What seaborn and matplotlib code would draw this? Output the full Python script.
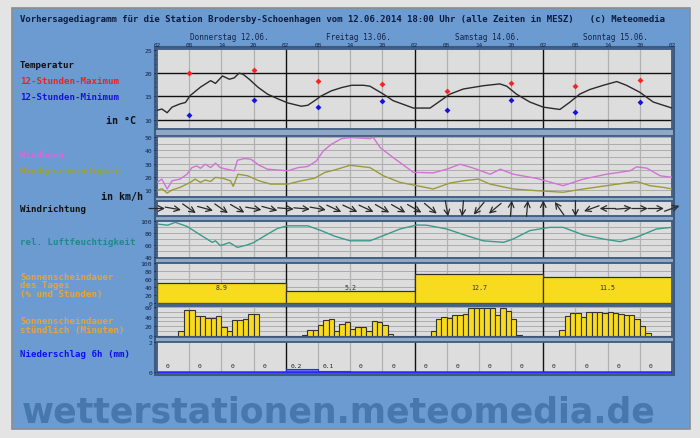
import matplotlib
matplotlib.use("Agg")
import matplotlib.pyplot as plt
import seaborn as sns
import numpy as np
from matplotlib.patches import Rectangle

# ---- data (hours after Thursday 02:00) ----
temp_hours = [0, 0.9, 1.9, 2.8, 4.3, 5.3, 6.2, 8.1, 10.0, 10.9, 12.2, 13.5, 14.4, 15.3, 16.0,
              17.2, 18.8, 20.6, 22.5, 24.4, 26.9, 28.1, 29.4, 30.6, 32.5, 34.4, 36.3, 38.5,
              39.7, 42.2, 44.0, 47.8, 50.9, 54.6, 57.1, 60.8, 63.9, 65.2, 67.0, 69.5, 72.0,
              75.1, 77.0, 78.8, 80.7, 83.2, 85.7, 87.5, 90.0, 92.5, 96.0]
temp_vals = [12.0, 12.3, 11.5, 12.7, 13.4, 13.7, 15.2, 17.0, 18.4, 17.8, 19.4, 18.7, 19.0, 20.0,
             19.8, 18.7, 17.0, 15.5, 14.5, 13.6, 12.9, 13.1, 14.1, 15.1, 16.2, 16.9, 17.4, 17.4,
             17.2, 15.5, 14.1, 12.5, 12.5, 15.5, 16.6, 17.3, 17.7, 17.2, 15.5, 13.8, 12.7,
             12.2, 13.8, 15.5, 16.5, 17.4, 18.2, 17.4, 15.9, 13.8, 12.5]
ext_hours = [6, 18, 30, 42, 54, 66, 78, 90]
tmax = [20.0, 20.6, 18.4, 17.7, 16.2, 17.9, 17.2, 18.5]
tmin = [11.1, 14.3, 12.7, 14.0, 12.0, 14.3, 11.6, 13.8]

gust_hours = [0, 0.9, 1.9, 2.8, 4.3, 5.6, 6.5, 7.4, 8.1, 9.0, 10.0, 10.9, 11.8, 13.0, 14.4, 15.0,
              16.3, 17.5, 19.0, 20.6, 24.4, 26.3, 28.1, 29.7, 31.0, 32.5, 34.4, 36.3, 39.7,
              40.3, 41.6, 44.0, 47.8, 51.5, 54.0, 56.5, 59.0, 62.1, 64.0, 66.4, 70.8, 75.7,
              79.5, 83.8, 88.2, 89.4, 91.3, 93.8, 96.0]
gust_vals = [15.8, 18.3, 10.8, 17.0, 18.3, 22.0, 27.0, 28.3, 26.5, 29.6, 27.0, 30.4, 27.0, 25.8,
             24.6, 32.6, 33.9, 33.4, 28.9, 25.8, 24.6, 27.0, 27.9, 32.0, 39.7, 44.7, 49.0, 49.8,
             49.0, 50.0, 42.2, 34.7, 23.4, 23.0, 25.8, 29.6, 26.6, 22.0, 25.8, 22.0, 18.8, 13.3,
             18.3, 22.0, 24.6, 27.6, 26.6, 20.8, 19.6]
wind_hours = [0, 0.9, 1.9, 2.8, 4.3, 6.2, 7.1, 8.1, 9.0, 10.0, 10.9, 12.2, 13.7, 14.2, 15.1, 16.9,
              19.0, 21.2, 24.4, 26.9, 29.4, 31.3, 33.2, 36.0, 39.7, 42.2, 45.3, 47.8, 51.5,
              54.6, 57.1, 59.9, 62.1, 66.4, 70.8, 75.7, 79.5, 83.8, 89.4, 91.9, 94.4, 96.0]
wind_vals = [9.5, 11.0, 7.7, 10.0, 12.0, 15.8, 18.3, 15.8, 17.6, 16.5, 19.6, 19.0, 17.0, 12.8,
             22.0, 20.8, 17.0, 14.5, 14.5, 17.0, 19.0, 23.4, 25.3, 28.8, 27.0, 20.8, 15.8, 13.8,
             10.8, 15.3, 17.0, 18.3, 14.5, 10.8, 9.5, 8.3, 10.8, 13.3, 16.5, 13.3, 12.0, 10.8]

hum_hours = [0, 2.0, 3.4, 5.6, 8.1, 10.3, 10.9, 11.8, 13.5, 15.0, 16.8, 18.0, 20.6, 22.5, 24.4,
             28.1, 30.6, 33.2, 36.0, 39.7, 42.2, 45.3, 48.4, 50.3, 54.0, 57.7, 60.8, 64.6,
             66.4, 69.5, 73.2, 75.7, 79.5, 83.2, 86.3, 89.4, 93.1, 96.0]
hum_vals = [95, 93, 97.8, 91, 76.7, 64.4, 67, 58.9, 64, 56, 60, 64, 78, 87.8, 92, 92, 84, 74.4,
            67, 67, 75.6, 86.7, 93.3, 93, 86.7, 75.6, 67, 64.4, 70, 84, 89.4, 89.4, 76.7,
            70, 65.6, 73, 86.7, 89.4]

dir_hours = list(range(0, 97, 3))
dir_angle = [0, -10, -35, -15, -35, -30, -10, -15, -5, -5, -10,
             -25, -25, -25, -30, -30, -30, -40, -80, -95, -130, -140,
             85, 85, 90, 125, -90, -160, 180, 5, 0, 0, 20]

day_names = ["Donnerstag 12.06.", "Freitag 13.06.", "Samstag 14.06.", "Sonntag 15.06."]
day_sun_pct = [51, 30, 72, 66]
day_sun_text = ["8.9", "5.2", "12.7", "11.5"]

sun_thu = [0, 0, 0, 0, 9, 53, 53, 42, 42, 37, 37, 41, 19, 9, 32, 32, 35, 45, 45, 0, 0, 0, 0, 0]
sun_fri = [0, 0, 0, 2, 12, 12, 23, 33, 35, 10, 25, 28, 14, 18, 18, 10, 30, 28, 23, 3, 0, 0, 0, 0]
sun_sat = [0, 0, 0, 10, 35, 40, 37, 43, 43, 45, 57, 57, 57, 57, 57, 43, 57, 52, 35, 1, 0, 0, 0, 0]
sun_sun = [0, 0, 0, 12, 41, 48, 48, 38, 49, 49, 49, 48, 50, 47, 45, 43, 43, 35, 21, 5, 0, 0, 0, 0]

precip_mm = [0, 0, 0, 0, 0.2, 0.1, 0, 0, 0, 0, 0, 0, 0, 0, 0, 0]
hour_labels = ["02", "08", "14", "20"]

# ---- layout ----
W, H = 700, 439
sns.set_style("white")
plt.rcParams["font.family"] = ["DejaVu Sans Mono", "DejaVu Sans"]
fig = plt.figure(figsize=(W / 100, H / 100), dpi=100, facecolor="#e4e4e4")

fig.add_artist(Rectangle((12 / W, 1 - 430 / H), 678 / W, 421 / H, transform=fig.transFigure,
                         facecolor="#6b9bd0", edgecolor="#8c8c8c", lw=1.2, zorder=-3))
fig.add_artist(Rectangle((155 / W, 1 - 376 / H), 519 / W, 328 / H, transform=fig.transFigure,
                         facecolor="#8fa8c6", edgecolor="#3d5a80", lw=1.5, zorder=-2))

BG = "#dddddd"
NAVY = "#14244a"


def panel(top, bottom, ylim, grid_step=None, ticks=None, minor=None):
    ax = fig.add_axes([157 / W, 1 - bottom / H, 515 / W, (bottom - top) / H])
    ax.set_facecolor(BG)
    ax.set_xlim(0, 96)
    ax.set_ylim(*ylim)
    for s in ax.spines.values():
        s.set_color("#3d5a80")
        s.set_linewidth(1.3)
    ax.set_xticks([])
    if ticks is not None:
        ax.set_yticks(ticks)
        ax.tick_params(axis="y", labelsize=4.6, length=2.5, width=0.6, pad=1,
                       colors=NAVY, left=True)
        if minor is not None:
            ax.set_yticks(minor, minor=True)
            ax.tick_params(axis="y", which="minor", length=1.5, width=0.5, color=NAVY, left=True)
    else:
        ax.set_yticks([])
    if grid_step:
        for yv in np.arange(ylim[0] - ylim[0] % grid_step + grid_step, ylim[1], grid_step):
            ax.axhline(yv, color="#a4a4a4", lw=0.6, zorder=0.5)
    for h in range(6, 96, 6):
        ax.axvline(h, color="#111111" if h % 24 == 0 else "#b2b2b2",
                   lw=1.0 if h % 24 == 0 else 0.9, zorder=0.6)
    return ax


# temperature
ax_t = panel(50, 130, (8.0, 25.2), ticks=[10, 15, 20, 25], minor=list(range(9, 26)))
for yv in [10, 15, 20]:
    ax_t.axhline(yv, color="#111111", lw=1.0, zorder=0.7)
sns.lineplot(x=temp_hours, y=temp_vals, ax=ax_t, color="#2a2a2a", lw=1.0, zorder=3)
sns.scatterplot(x=ext_hours, y=tmax, ax=ax_t, color="#ff2020", s=9, marker="D", linewidth=0, zorder=4)
sns.scatterplot(x=ext_hours, y=tmin, ax=ax_t, color="#1414e0", s=9, marker="D", linewidth=0, zorder=4)
ax_t.set_xticks(range(0, 97, 6))
ax_t.set_xticklabels([hour_labels[i % 4] for i in range(17)])
ax_t.xaxis.tick_top()
ax_t.tick_params(axis="x", labelsize=4.3, length=0, pad=1.5, colors=NAVY)
for i, name in enumerate(day_names):
    ax_t.text(i * 24 + 13.5, 1.16, name, transform=ax_t.get_xaxis_transform(),
              ha="center", va="center", fontsize=5.6, color=NAVY)

# wind
ax_w = panel(137, 198, (4.7, 51), grid_step=5, ticks=[10, 20, 30, 40, 50],
             minor=list(range(6, 51, 2)))
sns.lineplot(x=gust_hours, y=gust_vals, ax=ax_w, color="#d272d6", lw=1.0, zorder=3)
sns.lineplot(x=wind_hours, y=wind_vals, ax=ax_w, color="#9a9a3a", lw=1.0, zorder=3)

# wind direction
ax_d = panel(202, 217, (-1, 1))
L = 8.0
for h, a in zip(dir_hours, dir_angle):
    dx = L * np.cos(np.radians(a)) / (515 / 96)
    dy = L * np.sin(np.radians(a)) / 7.5
    ax_d.annotate("", xy=(h + dx, dy), xytext=(h - dx, -dy), annotation_clip=False,
                  arrowprops=dict(arrowstyle="->", color="#2a2a2a", lw=0.9,
                                  shrinkA=0, shrinkB=0, mutation_scale=10))

# humidity
ax_h = panel(222, 259, (38.3, 100), grid_step=10, ticks=[40, 60, 80, 100],
             minor=list(range(40, 101, 5)))
sns.lineplot(x=hum_hours, y=hum_vals, ax=ax_h, color="#3a9a8c", lw=1.0, zorder=3)

# daily sunshine
ax_s = panel(264, 305, (-1.5, 100), grid_step=20, ticks=[0, 20, 40, 60, 80, 100])
day_centers = [i * 24 + 12 for i in range(4)]
ax_s.bar(day_centers, day_sun_pct, width=24, color="#f8da1e", edgecolor="#333333", lw=0.9, zorder=2)
for c, t in zip(day_centers, day_sun_text):
    ax_s.text(c, 40, t, ha="center", va="center", fontsize=4.8, color="#333333", zorder=3)

# hourly sunshine
ax_m = panel(307, 338, (-2.7, 62), grid_step=10, ticks=[0, 20, 40, 60])
sun_hourly = sun_thu + sun_fri + sun_sat + sun_sun
ax_m.bar(np.arange(96) + 0.5, sun_hourly, width=1.0, color="#f8da1e",
         edgecolor="#333333", lw=0.8, zorder=2)

# precipitation
ax_p = panel(343, 374, (-0.05, 2), ticks=[0, 2])
precip_centers = np.arange(16) * 6 + 3
ax_p.bar(precip_centers, precip_mm, width=6, color="#6a6aff", edgecolor="#2a2aff", lw=0.8, zorder=2)
ax_p.axhline(0, color="#2a2aff", lw=1.8, zorder=3)
for c, v in zip(precip_centers, precip_mm):
    ax_p.text(c - 1, 0.42, "0" if v == 0 else f"{v:.1f}", ha="center", va="center",
              fontsize=4.5, color="#222222", zorder=4)

# ---- texts ----
def ftext(x, y, s, color, **kw):
    fig.text(x / W, 1 - y / H, s, color=color, fontsize=kw.pop("size", 6.6),
             fontweight=kw.pop("weight", "bold"), va="center", **kw)


ftext(20, 20, "Vorhersagediagramm für die Station Brodersby-Schoenhagen vom 12.06.2014 18:00 Uhr "
      "(alle Zeiten in MESZ)   (c) Meteomedia", "#0c1c40", size=6.5)
ftext(20, 65, "Temperatur", "#101010")
ftext(20, 81, "12-Stunden-Maximum", "#ee2222")
ftext(20, 97, "12-Stunden-Minimum", "#1414dd")
ftext(136, 121, "in °C", "#101010", ha="right", size=7.2)
ftext(20, 156, "Windböen", "#dd66dd")
ftext(20, 172, "Windgeschwindigkeit", "#a0a032")
ftext(143, 197, "in km/h", "#101010", ha="right", size=7.2)
ftext(20, 210, "Windrichtung", "#101010")
ftext(20, 243, "rel. Luftfeuchtigkeit", "#1f8a88")
ftext(20, 278, "Sonnenscheindauer", "#e8a43a")
ftext(20, 286, "des Tages", "#e8a43a")
ftext(20, 294, "(% und Stunden)", "#e8a43a")
ftext(20, 322, "Sonnenscheindauer", "#e8a43a")
ftext(20, 331, "stündlich (Minuten)", "#e8a43a")
ftext(20, 355, "Niederschlag 6h (mm)", "#1010ee")

fig.text(22 / W, 1 - 423 / H, "wetterstationen.meteomedia.de", family="DejaVu Sans",
         fontsize=25, fontweight="bold", color="#4677ad", va="baseline")

fig.savefig("out.png", dpi=100, facecolor=fig.get_facecolor())
